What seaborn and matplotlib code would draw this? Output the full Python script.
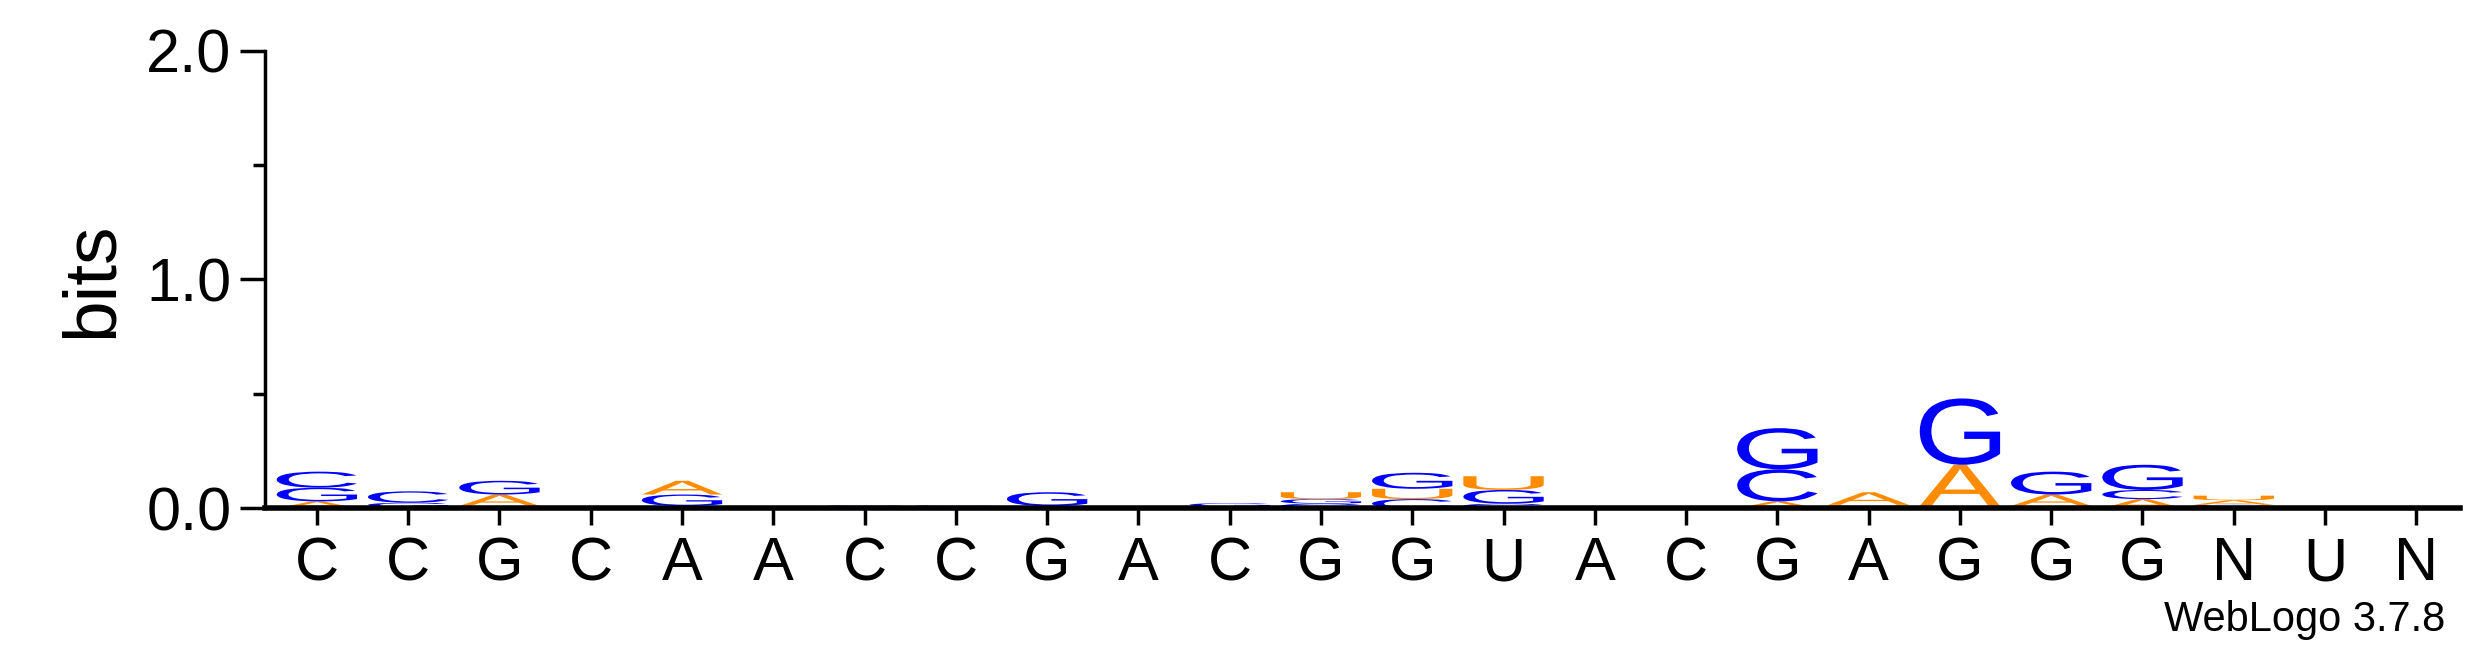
import matplotlib
matplotlib.use("Agg")
import matplotlib.pyplot as plt
import seaborn as sns
from matplotlib.textpath import TextPath
from matplotlib.patches import PathPatch
from matplotlib.font_manager import FontProperties
from matplotlib.transforms import Affine2D

sns.set_style("ticks")
plt.rcParams['font.family'] = ['Liberation Sans', 'DejaVu Sans']
plt.rcParams['text.color'] = 'black'
plt.rcParams['xtick.color'] = 'black'
plt.rcParams['ytick.color'] = 'black'
plt.rcParams['axes.edgecolor'] = 'black'
plt.rcParams['axes.labelcolor'] = 'black'

labels = list("CCGCAACCGACGGUACGAGGGNUN")
h_A = [0.03, 0.004, 0.05, 0.005, 0.06, 0.005, 0, 0.002, 0, 0, 0.002, 0, 0, 0, 0.002, 0.002, 0.03, 0.055, 0.18, 0.05, 0.04, 0.02, 0, 0]
h_C = [0.07, 0.05, 0.01, 0, 0.01, 0, 0.01, 0.005, 0, 0, 0.005, 0.02, 0.04, 0.02, 0.002, 0.003, 0.14, 0.005, 0.005, 0.01, 0.04, 0.01, 0, 0]
h_G = [0.06, 0.02, 0.06, 0, 0.05, 0, 0.003, 0.006, 0.06, 0, 0.015, 0.02, 0.07, 0.06, 0.003, 0.002, 0.18, 0.005, 0.29, 0.10, 0.11, 0.005, 0, 0]
h_U = [0, 0, 0, 0, 0, 0.005, 0, 0, 0.01, 0, 0, 0.03, 0.045, 0.06, 0, 0, 0, 0.005, 0.005, 0, 0, 0.02, 0, 0]
colors = {'A': '#FF8C00', 'U': '#FF8C00', 'C': '#0000FF', 'G': '#0000FF'}

fp = FontProperties(family='Liberation Sans')
fig = plt.figure(figsize=(24.75, 6.67), dpi=100)
ax = fig.add_axes([0.107, 0.238, 0.887, 0.686])

def draw_letter(letter, x, y, w, h):
    tp = TextPath((0, 0), letter, size=1, prop=fp)
    bb = tp.get_extents()
    t = Affine2D().translate(-bb.x0, -bb.y0).scale(w / bb.width, h / bb.height).translate(x - w / 2, y)
    ax.add_patch(PathPatch(t.transform_path(tp), fc=colors[letter], ec='none'))

for i in range(len(labels)):
    stack = sorted([('A', h_A[i]), ('C', h_C[i]), ('G', h_G[i]), ('U', h_U[i])], key=lambda s: s[1])
    y = 0
    for let, h in stack:
        if h > 0:
            draw_letter(let, i + 1, y, 0.88, h)
            y += h

ax.set_xlim(0.43, 24.48)
ax.set_ylim(0, 2)
ax.set_xticks(range(1, 25))
ax.set_xticklabels(labels, fontsize=44)
ax.set_yticks([0, 1, 2])
ax.set_yticklabels(['0.0', '1.0', '2.0'], fontsize=44)
ax.set_yticks([0.5, 1.5], minor=True)
ax.tick_params(axis='y', which='major', length=18, width=2.5, pad=6)
ax.tick_params(axis='y', which='minor', length=9, width=2.5)
ax.tick_params(axis='x', length=12, width=2.5, pad=8)
for s in ['top', 'right']:
    ax.spines[s].set_visible(False)
ax.spines['left'].set_linewidth(2.5)
ax.spines['bottom'].set_linewidth(4)
ax.set_ylabel('bits', fontsize=54, labelpad=14)
fig.text(0.988, 0.04, 'WebLogo 3.7.8', ha='right', va='bottom', fontsize=30)
fig.savefig('out.png', dpi=100)
